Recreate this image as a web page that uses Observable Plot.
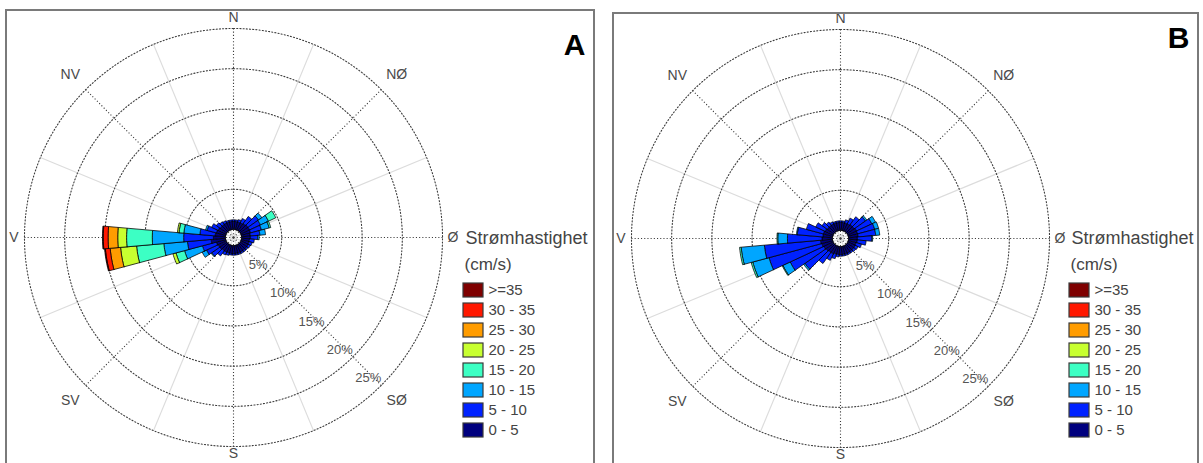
<!DOCTYPE html>
<html><head><meta charset="utf-8">
<script src="https://cdn.jsdelivr.net/npm/d3@7"></script>
<script src="https://cdn.jsdelivr.net/npm/@observablehq/plot@0.6"></script>
<style>
body{margin:0;background:#fff;}
#root{position:relative;width:1203px;height:463px;overflow:hidden;background:#fff;font-family:"Liberation Sans",Arial,sans-serif;}
.frame{position:absolute;border:2px solid #7a7a7a;border-bottom:none;box-sizing:border-box;}
#root svg{position:absolute;}
</style></head><body><div id="root"></div>
<script>
// ---------- data ----------
const directions = [0,10,20,30,40,50,60,70,80,90,100,110,120,130,140,150,160,170,180,190,200,210,220,230,240,250,260,270,280,290,300,310,320,330,340,350];
const speedClasses = ["0 - 5","5 - 10","10 - 15","15 - 20","20 - 25","25 - 30","30 - 35",">=35"];
const classColors = ["#00007f","#0022ff","#00a6ff","#3cffc4","#c8ff30","#ff9c00","#ff1800","#7f0000"];
const ringLevels = [5,10,15,20,25];
const ringLabels = ["5%","10%","15%","20%","25%"];
const compassLabels = ["N","NØ","Ø","SØ","S","SV","V","NV"];
const compassAngles = [0,45,90,135,180,225,270,315];
const panelTags = ["A","B"];
const legendTitle = ["Strømhastighet","(cm/s)"];

// Panel A: percent of time per direction bin, per speed class
const aS0  = [1.0,1.0,1.0,1.0,1.1,1.2,1.2,1.2,1.1,1.1,1.0,1.0,1.0,1.0,1.0,1.0,1.0,1.0,1.0,1.0,1.0,1.0,1.0,1.1,1.1,1.2,1.8,1.5,1.3,1.2,1.1,1.0,1.0,1.0,1.0,1.0];
const aS5  = [0.2,0.2,0.3,0.6,1.1,1.6,1.5,1.4,1.2,0.9,0.6,0.4,0.3,0.2,0.2,0.2,0.2,0.2,0.2,0.2,0.3,0.4,0.8,1.2,1.6,1.8,2.95,3.7,1.9,1.2,0.9,0.6,0.4,0.3,0.2,0.2];
const aS10 = [0,0,0,0,0,0.5,1.1,1.0,0.7,0.2,0,0,0,0,0,0,0,0,0,0,0,0,0,0.1,0.6,2.3,2.95,3.9,2.0,0.2,0,0,0,0,0,0];
const aS15 = [0,0,0,0,0,0,1.0,0.2,0,0,0,0,0,0,0,0,0,0,0,0,0,0,0,0,0,1.1,3.4,3.2,0.6,0,0,0,0,0,0,0];
const aS20 = [0,0,0,0,0,0,0,0,0,0,0,0,0,0,0,0,0,0,0,0,0,0,0,0,0,0.4,2.0,1.1,0.2,0,0,0,0,0,0,0];
const aS25 = [0,0,0,0,0,0,0,0,0,0,0,0,0,0,0,0,0,0,0,0,0,0,0,0,0,0,1.3,1.2,0,0,0,0,0,0,0,0];
const aS30 = [0,0,0,0,0,0,0,0,0,0,0,0,0,0,0,0,0,0,0,0,0,0,0,0,0,0,0.6,0.6,0,0,0,0,0,0,0,0];
const aS35 = [0,0,0,0,0,0,0,0,0,0,0,0,0,0,0,0,0,0,0,0,0,0,0,0,0,0,0.1,0.1,0,0,0,0,0,0,0,0];

// Panel B
const bS0  = [1.0,1.0,1.0,1.0,1.1,1.1,1.2,1.2,1.2,1.1,1.1,1.0,1.0,1.0,1.0,1.0,1.0,1.0,1.0,1.0,1.0,1.1,1.1,1.2,1.3,1.4,1.5,1.3,1.2,1.2,1.1,1.0,1.0,1.0,1.0,1.0];
const bS5  = [0.2,0.2,0.4,0.8,1.2,1.7,2.1,2.2,2.2,1.8,1.1,0.7,0.4,0.3,0.2,0.2,0.2,0.2,0.2,0.3,0.6,0.9,1.7,3.2,4.6,6.8,7.0,4.3,3.2,2.2,1.3,0.8,0.5,0.3,0.2,0.2];
const bS10 = [0,0,0,0,0,0.2,0.5,0.5,0.5,0.1,0,0,0,0,0,0,0,0,0,0,0,0,0,0.2,1.0,2.1,2.9,1.2,0.1,0,0,0,0,0,0,0];
const bS15 = [0,0,0,0,0,0,0,0,0,0,0,0,0,0,0,0,0,0,0,0,0,0,0,0,0.1,0.2,0.2,0.1,0,0,0,0,0,0,0,0];
const bS20 = [0,0,0,0,0,0,0,0,0,0,0,0,0,0,0,0,0,0,0,0,0,0,0,0,0,0,0,0,0,0,0,0,0,0,0,0];
const bS25 = [0,0,0,0,0,0,0,0,0,0,0,0,0,0,0,0,0,0,0,0,0,0,0,0,0,0,0,0,0,0,0,0,0,0,0,0];
const bS30 = [0,0,0,0,0,0,0,0,0,0,0,0,0,0,0,0,0,0,0,0,0,0,0,0,0,0,0,0,0,0,0,0,0,0,0,0];
const bS35 = [0,0,0,0,0,0,0,0,0,0,0,0,0,0,0,0,0,0,0,0,0,0,0,0,0,0,0,0,0,0,0,0,0,0,0,0];

const seriesA = [aS0,aS5,aS10,aS15,aS20,aS25,aS30,aS35];
const seriesB = [bS0,bS5,bS10,bS15,bS20,bS25,bS30,bS35];

// ---------- drawing ----------
const FONT = '"Liberation Sans", Arial, Helvetica, sans-serif';
const PX = 8.04;      // pixels per percent
const HOLE = 1.0;     // empty centre (percent units)
const RMAX = HOLE + 25;
const BIN = 10;
const rad = a => a * Math.PI / 180;
const px = (r, a) => r * Math.sin(rad(a));
const py = (r, a) => r * Math.cos(rad(a));
const root = document.getElementById("root");

function wedges(series) {
  const pts = [];
  directions.forEach((dir, i) => {
    let cum = 0;
    series.forEach((s, k) => {
      const v = s[i];
      if (!(v > 0)) return;
      const r0 = HOLE + cum, r1 = HOLE + cum + v;
      const id = dir + "-" + k;
      const a1 = dir - BIN / 2, a2 = dir + BIN / 2;
      const n = 6;
      for (let j = 0; j <= n; j++) { const a = a1 + (a2 - a1) * j / n; pts.push({id, cls: speedClasses[k], x: px(r0, a), y: py(r0, a)}); }
      for (let j = n; j >= 0; j--) { const a = a1 + (a2 - a1) * j / n; pts.push({id, cls: speedClasses[k], x: px(r1, a), y: py(r1, a)}); }
      pts.push({id, cls: speedClasses[k], x: px(r0, a1), y: py(r0, a1)});
      cum += v;
    });
  });
  return pts;
}

function ringPoints() {
  const pts = [];
  ringLevels.forEach(lv => {
    for (let a = 0; a <= 360; a += 2) pts.push({ring: lv, x: px(HOLE + lv, a), y: py(HOLE + lv, a)});
  });
  return pts;
}

function rose(series, tag, left, width, height, cx, cy, tagDx, tagDy) {
  const lightAngles = compassAngles.map(a => a + 22.5);
  const labelR = a => (a === 180 ? 26.9 : a % 90 === 0 ? 27.3 : 28.7);
  const svg = Plot.plot({
    width, height,
    marginTop: 0, marginBottom: 0, marginLeft: 0, marginRight: 0,
    style: {background: "transparent", fontFamily: FONT, overflow: "visible"},
    x: {domain: [-cx / PX, (width - cx) / PX], axis: null},
    y: {domain: [-(height - cy) / PX, cy / PX], axis: null},
    color: {type: "ordinal", domain: speedClasses, range: classColors},
    marks: [
      Plot.link(lightAngles, {x1: () => 0, y1: () => 0, x2: a => px(RMAX, a), y2: a => py(RMAX, a), stroke: "#dcdcdc", strokeWidth: 1.2}),
      Plot.line(ringPoints(), {x: "x", y: "y", z: "ring", stroke: "#3c3c3c", strokeWidth: 1.1, strokeDasharray: "1.1,2.1"}),
      Plot.link(compassAngles, {x1: () => 0, y1: () => 0, x2: a => px(RMAX, a), y2: a => py(RMAX, a), stroke: "#3c3c3c", strokeWidth: 1.1, strokeDasharray: "1.1,2.1"}),
      Plot.line(wedges(series), {x: "x", y: "y", z: "id", fill: "cls", stroke: "#000", strokeWidth: 0.85, strokeOpacity: 0.9}),
      Plot.text(compassLabels, {x: (d, i) => px(labelR(compassAngles[i]), compassAngles[i]), y: (d, i) => py(labelR(compassAngles[i]), compassAngles[i]), text: d => d, fontSize: 14, fill: "#4a4a4a"}),
      Plot.text(ringLevels, {x: d => (HOLE + d) * Math.SQRT1_2, y: d => -(HOLE + d) * Math.SQRT1_2, text: (d, i) => ringLabels[i], textAnchor: "end", dy: -7, fontSize: 13, fill: "#555"}),
      Plot.text([tag], {frameAnchor: "top-left", dx: tagDx, dy: tagDy, text: d => d, textAnchor: "middle", lineAnchor: "middle", fontSize: 30, fontWeight: "bold", fill: "#000"})
    ]
  });
  svg.style.left = left + "px";
  svg.style.top = "0px";
  root.appendChild(svg);
}

function legend(left, top) {
  const svg = Plot.plot({
    width: 140, height: 218,
    marginTop: 52, marginBottom: 0, marginLeft: 0, marginRight: 0,
    style: {background: "transparent", fontFamily: FONT, overflow: "visible"},
    x: {type: "band", domain: ["s"], range: [3, 23], padding: 0, axis: null},
    y: {type: "band", domain: speedClasses.slice().reverse(), paddingInner: 0.3, paddingOuter: 0.15, axis: null},
    color: {type: "ordinal", domain: speedClasses, range: classColors},
    marks: [
      Plot.cell(speedClasses, {x: () => "s", y: d => d, fill: d => d, stroke: "#3a3a3a", strokeWidth: 1.2}),
      Plot.text(speedClasses, {x: () => "s", y: d => d, text: d => d, dx: 15, textAnchor: "start", fontSize: 15, fill: "#444"}),
      Plot.text([legendTitle[0]], {frameAnchor: "top-left", dx: 5, dy: -39, text: d => d, textAnchor: "start", lineAnchor: "middle", fontSize: 18, fill: "#444"}),
      Plot.text([legendTitle[1]], {frameAnchor: "top-left", dx: 4, dy: -13, text: d => d, textAnchor: "start", lineAnchor: "middle", fontSize: 17, fill: "#444"})
    ]
  });
  svg.style.left = left + "px";
  svg.style.top = top + "px";
  root.appendChild(svg);
}

rose(seriesA, panelTags[0], 0, 600, 463, 233, 237, 574, 45);
rose(seriesB, panelTags[1], 600, 603, 463, 240, 238, 578, 38);
legend(460, 225);
legend(1066, 225);

function frame(left, top, w) {
  const d = document.createElement("div");
  d.className = "frame";
  d.style.left = left + "px"; d.style.top = top + "px";
  d.style.width = w + "px"; d.style.height = "480px";
  root.appendChild(d);
}
frame(5, 9, 590);
frame(612, 12, 587);
</script>
</body></html>
